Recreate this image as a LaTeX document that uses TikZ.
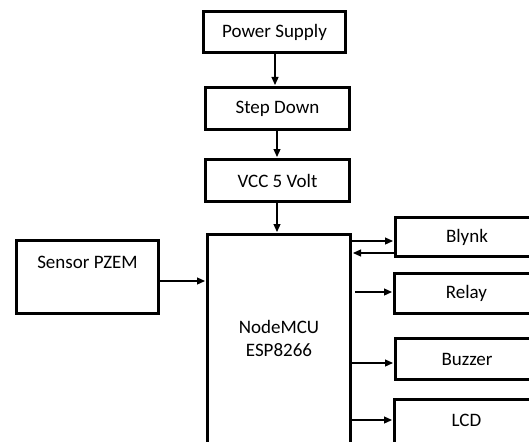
\documentclass[tikz,border=0pt]{standalone}
\usepackage{fontspec}
\setmainfont{Carlito}
\usetikzlibrary{arrows.meta}
\begin{document}
\begin{tikzpicture}[x=1pt,y=-1pt,
  box/.style={draw, line width=3pt, fill=white, inner sep=0pt, align=center,
    font=\fontsize{19}{23}\selectfont},
  arr/.style={line width=1.2pt, -{Triangle[length=8pt,width=7pt]}, shorten >=1pt},
  lbl/.style={inner sep=0pt, align=center, font=\fontsize{19}{23}\selectfont}]
\useasboundingbox (0,0) rectangle (529,441);
\clip (0,0) rectangle (529,441);
\node[box, minimum width=142pt, minimum height=41pt] (ps) at (274.5,32) {Power Supply};
\node[box, minimum width=144pt, minimum height=42pt] (sd) at (277.5,108.5) {Step Down};
\node[box, minimum width=144pt, minimum height=42pt] (vcc) at (277.5,180.5) {VCC 5 Volt};
\node[box, minimum width=143pt, minimum height=230pt] (mcu) at (279,349.5) {};
\node[lbl] (mcul) at (279,338) {NodeMCU\\ESP8266};
\node[box, minimum width=142pt, minimum height=73pt] (pz) at (87.5,277) {};
\node[lbl] (pzl) at (87.5,262) {Sensor PZEM};
\node[box, minimum width=143pt, minimum height=39pt] (bl) at (467,237) {Blynk};
\node[box, minimum width=144pt, minimum height=40pt] (re) at (466.5,293.5) {Relay};
\node[box, minimum width=143pt, minimum height=41pt] (bz) at (467,359) {Buzzer};
\node[box, minimum width=144pt, minimum height=50pt] (lcd) at (466.5,424.5) {};
\node[lbl] (lcdl) at (466.5,420) {LCD};
\coordinate (xa) at (275,0);
\coordinate (xb) at (277,0);
\coordinate (ya) at (0,281);
\coordinate (yb) at (0,241);
\coordinate (yc) at (0,253);
\coordinate (yd) at (0,292);
\coordinate (ye) at (0,363);
\coordinate (yf) at (0,420);
\draw[arr] (ps.south -| xa) -- (sd.north -| xa);
\draw[arr] (sd.south -| xb) -- (vcc.north -| xb);
\draw[arr] (vcc.south -| xb) -- (mcu.north -| xb);
\draw[arr] (pz.east |- ya) -- (mcu.west |- ya);
\draw[arr] (mcu.east |- yb) -- (bl.west |- yb);
\draw[arr] (bl.west |- yc) -- (mcu.east |- yc);
\draw[arr] ([xshift=3pt]mcu.east |- yd) -- (re.west |- yd);
\draw[arr] (mcu.east |- ye) -- (bz.west |- ye);
\draw[arr] (mcu.east |- yf) -- (lcd.west |- yf);
\end{tikzpicture}
\end{document}
